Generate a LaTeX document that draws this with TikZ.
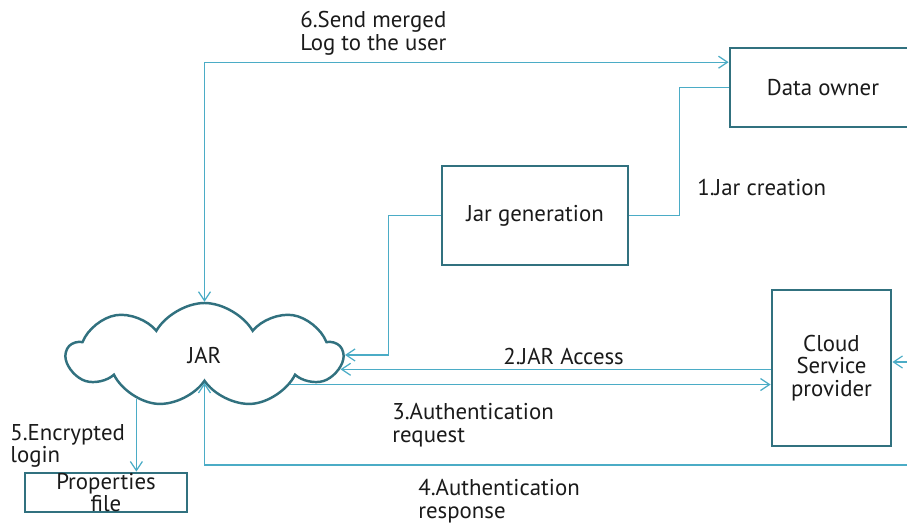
\documentclass[tikz,border=0pt]{standalone}
\usepackage{fontspec}
\setmainfont{PT Sans}
\usetikzlibrary{arrows.meta,positioning,shapes.symbols}
\definecolor{jarInk}{HTML}{1A1A1A}
\definecolor{jarTeal}{HTML}{31717F}
\definecolor{jarLine}{HTML}{4BACC6}
\tikzset{
  every picture/.style={font=\fontsize{13}{12.8}\selectfont, text=jarInk},
  jar box/.style={draw=jarTeal, line width=1.6pt, fill=white, align=center,
    inner sep=0pt},
  jar cloud/.style={cloud, cloud puffs=9, cloud puff arc=120, cloud ignores aspect,
    draw=jarTeal, line width=1.4pt, fill=white,
    minimum width=5.5cm, minimum height=2.08cm, inner sep=0pt},
  jar flow/.style={-{Straight Barb[length=1.8mm,width=2.4mm]},
    draw=jarLine, line width=0.7pt},
  jar link/.style={draw=jarLine, line width=0.7pt},
  jar label/.style={align=left, inner sep=0pt}
}

\begin{document}
\begin{tikzpicture}[x=0.02cm,y=-0.02cm]
  \useasboundingbox (0,0) rectangle (907,523);
  \clip (0,0) rectangle (907,523);
  % boxes
  \node[jar box, minimum width=3.72cm, minimum height=1.58cm] (owner) at (823,87.5) {Data owner};
  \node[jar box, minimum width=3.72cm, minimum height=1.98cm] (gen) at (535,215.5) {Jar generation};
  \node[jar box, minimum width=2.38cm, minimum height=3.12cm] (csp) at (831.5,368) {Cloud\\Service\\provider};
  \node[jar box, minimum width=3.24cm, minimum height=0.78cm] (props) at (106,492.5) {};
  \node[align=center, inner sep=0pt] (propsText) at (props) {Properties\\file};
  \node[jar cloud] (jar) at (204.5,355) {JAR};
  % loose ends running off to the right
  \coordinate (respEnd) at (915,465);
  \coordinate (cspIn) at (915,362);
  % connectors
  \draw[jar link] (owner.west) -- ++(-49,0) |- (gen.east);
  \draw[jar flow] (gen.west) -- ++(-52,0) |- (jar.east);
  \draw[jar flow] (csp.west |- jar.-6) -- (jar.-6);
  \draw[jar flow] (jar.-19) -- (jar.-19 -| csp.west);
  \draw[jar flow] (respEnd) -| (jar.south);
  \draw[jar flow] (jar.213) -- (jar.213 |- props.north);
  \draw[jar flow, {Straight Barb[length=1.8mm,width=2.4mm]}-{Straight Barb[length=1.8mm,width=2.4mm]}] (jar.north) |- (owner.165);
  \draw[jar flow] (cspIn) -- (cspIn -| csp.east);
  % step labels
  \node[jar label, anchor=north west] (stepSix) at (300,11) {6.Send merged\\Log to the user};
  \node[jar label, anchor=west] (stepOne) at (697,188) {1.Jar creation};
  \node[jar label, anchor=west] (stepTwo) at (503,357) {2.JAR Access};
  \node[jar label, anchor=north west] (stepThree) at (392,403) {3.Authentication\\request};
  \node[jar label, anchor=north west] (stepFour) at (418,479) {4.Authentication\\response};
  \node[jar label, anchor=north west] (stepFive) at (10,424) {5.Encrypted\\login};
\end{tikzpicture}
\end{document}
